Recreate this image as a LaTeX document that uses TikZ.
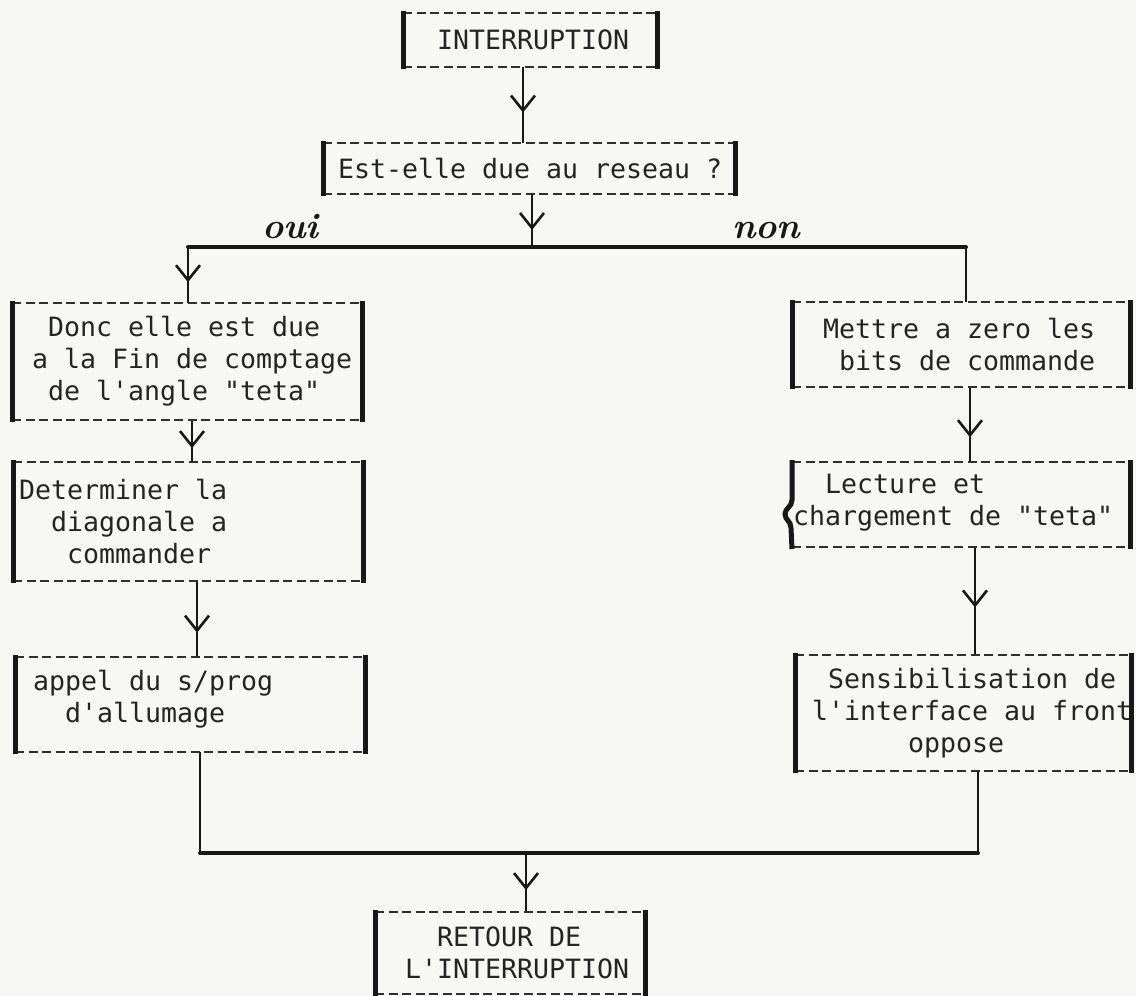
\documentclass[tikz,border=0pt]{standalone}
\usepackage{fontspec}
\newfontfamily\dotfont[Ligatures=TeXOff]{DejaVu Sans Mono}
\usetikzlibrary{arrows.meta,decorations.markings}
\definecolor{paper}{RGB}{247,247,244}
\definecolor{inkc}{RGB}{24,24,24}
\definecolor{textc}{RGB}{36,36,36}

\tikzset{
  conn/.style={draw=inkc, line width=2.9pt},
  flow/.style={conn, postaction={decorate},
    decoration={markings, mark=at position #1 with
      {\arrow[line width=2.6pt, inkc]{Straight Barb[length=15pt,width=24pt]}}}},
  flow/.default=0.65,
  bus/.style={draw=inkc, line width=4pt, line cap=round},
  stepbox/.style={inner sep=0pt, outer sep=0pt},
  dashedge/.style={draw=inkc!90, line width=2.1pt, dash pattern=on 9pt off 4.5pt},
  sideedge/.style={draw=inkc, line width=5pt},
  txt/.style={anchor=west, inner sep=0pt, align=left, text=textc,
    font=\dotfont\fontsize{26.57pt}{32pt}\selectfont},
  hand/.style={anchor=base west, inner sep=0pt, text=inkc,
    font=\bfseries\itshape\fontsize{36pt}{36pt}\selectfont},
}
% dashed top and bottom, heavy solid sides
\newcommand\boxedges[1]{%
  \draw[dashedge] (#1.north west) -- (#1.north east);
  \draw[dashedge] (#1.south west) -- (#1.south east);
  \draw[sideedge] ([yshift=2pt]#1.north west) -- ([yshift=-2pt]#1.south west);
  \draw[sideedge] ([yshift=2pt]#1.north east) -- ([yshift=-2pt]#1.south east);
}

\begin{document}
\begin{tikzpicture}[x=1pt,y=-1pt]
\fill[paper] (0,0) rectangle (1136,996);
\useasboundingbox (0,0) rectangle (1136,996);

% ---- boxes
\node[stepbox, minimum width=254pt, minimum height=54pt]  (int)     at (530,40)    {};
\node[stepbox, minimum width=412pt, minimum height=51pt]  (reseau)  at (529,168.5) {};
\node[stepbox, minimum width=350pt, minimum height=117pt] (donc)    at (187,361.5) {};
\node[stepbox, minimum width=350pt, minimum height=119pt] (diag)    at (188,521.5) {};
\node[stepbox, minimum width=350pt, minimum height=95pt]  (appel)   at (190,704.5) {};
\node[stepbox, minimum width=338pt, minimum height=85pt]  (mettre)  at (961,344.5) {};
\node[stepbox, minimum width=338pt, minimum height=85pt]  (lecture) at (961,504.5) {};
\node[stepbox, minimum width=336pt, minimum height=116pt] (sensib)  at (963,713)   {};
\node[stepbox, minimum width=270pt, minimum height=82pt]  (retour)  at (510,953)   {};

% ---- texts
\node[txt] (int-t)     at ([xshift=34pt]int.west) {INTERRUPTION};
\node[txt] (reseau-t)  at ([xshift=15pt]reseau.west) {Est-elle due au reseau ?};
\node[txt] (donc-t)    at ([xshift=20pt]donc.west)
  {\phantom{0}Donc elle est due\\a la Fin de comptage\\\phantom{0}de l'angle "teta"};
\node[txt] (diag-t)    at ([xshift=6pt]diag.west)
  {Determiner la\\\phantom{00}diagonale a\\\phantom{000}commander};
\node[txt] (appel-t)   at ([xshift=18pt,yshift=5pt]appel.west)
  {appel du s/prog\\\phantom{00}d'allumage};
\node[txt] (mettre-t)  at ([xshift=31pt]mettre.west)
  {Mettre a zero les\\\phantom{0}bits de commande};
\node[txt] (lecture-t) at ([xshift=1pt,yshift=2pt]lecture.west)
  {\phantom{00}Lecture et\\chargement de "teta"};
\node[txt] (sensib-t)  at ([xshift=17pt]sensib.west)
  {\phantom{0}Sensibilisation de\\l'interface au front\\\phantom{000000}oppose};
\node[txt] (retour-t)  at ([xshift=30pt]retour.west)
  {\phantom{00}RETOUR DE\\L'INTERRUPTION};

% ---- handwritten branch labels
\node[hand] (oui) at (262,238) {oui};
\node[hand] (non) at (732,238) {non};

% ---- connectors
\coordinate (c1) at (523,0);
\draw[flow=0.6] (c1 |- int.south) -- (c1 |- reseau.north);
\coordinate (split)  at (532,247);
\coordinate (splitL) at (188,247);
\coordinate (splitR) at (966,247);
\draw[flow=0.68] (split |- reseau.south) -- (split);
\draw[bus] (splitL) -- (splitR);
\draw[flow=0.63] (splitL) -- (splitL |- donc.north);
\draw[conn] (splitR) -- (splitR |- mettre.north);
\coordinate (c2) at (192,0);
\draw[flow=0.67] (c2 |- donc.south) -- (c2 |- diag.north);
\coordinate (c3) at (197,0);
\draw[flow=0.68] (c3 |- diag.south) -- (c3 |- appel.north);
\coordinate (c4) at (970,0);
\draw[flow=0.67] (c4 |- mettre.south) -- (c4 |- lecture.north);
\coordinate (c5) at (975,0);
\draw[flow=0.56] (c5 |- lecture.south) -- (c5 |- sensib.north);
\coordinate (joinL) at (200,853);
\coordinate (joinR) at (978,853);
\coordinate (join)  at (526,853);
\draw[conn] (joinL |- appel.south) -- (joinL);
\draw[conn] (joinR |- sensib.south) -- (joinR);
\draw[bus] (joinL) -- (joinR);
\draw[flow=0.63] (join) -- (join |- retour.north);

% ---- box outlines
\boxedges{int}
\boxedges{reseau}
\boxedges{donc}
\boxedges{diag}
\boxedges{appel}
\boxedges{mettre}
\boxedges{sensib}
\boxedges{retour}
% the "Lecture" box has a brace-like left side
\draw[dashedge] (lecture.north west) -- (lecture.north east);
\draw[dashedge] (lecture.south west) -- (lecture.south east);
\draw[sideedge] ([yshift=2pt]lecture.north east) -- ([yshift=-2pt]lecture.south east);
\draw[sideedge] ([yshift=2pt]lecture.north west) -- (792,500)
  .. controls (792,507) and (785,508) .. (785,514)
  .. controls (785,520) and (791,521) .. (791,528) -- ([yshift=-2pt]lecture.south west);
\end{tikzpicture}
\end{document}
